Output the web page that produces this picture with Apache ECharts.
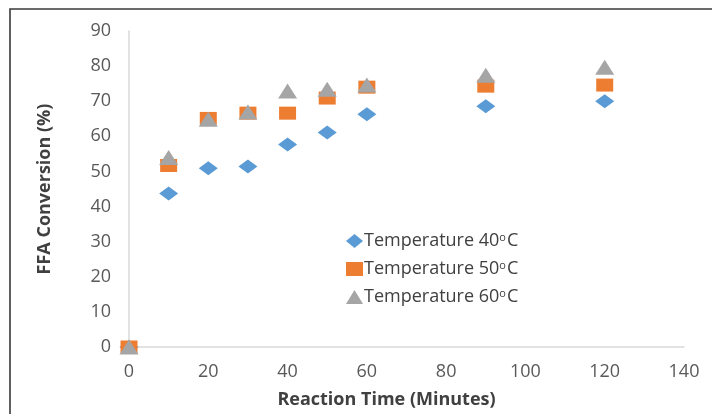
<!DOCTYPE html>
<html>
<head>
<meta charset="utf-8">
<script src="https://cdn.jsdelivr.net/npm/echarts@6/dist/echarts.min.js"></script>
<style>html,body{margin:0;padding:0;background:#fff;}#c{width:712px;height:414px;}</style>
</head>
<body>
<div id="c"></div>
<script>
const time = [0, 10, 20, 30, 40, 50, 60, 90, 120];
const temp40 = [0, 43.7, 50.9, 51.4, 57.7, 61.1, 66.3, 68.6, 70.0];
const temp50 = [0, 51.7, 65.1, 66.6, 66.6, 70.9, 74.0, 74.3, 74.6];
const temp60 = [0, 54.0, 64.9, 66.9, 72.9, 73.4, 74.6, 77.4, 79.7];
const seriesNames = ['Temperature 40oC', 'Temperature 50oC', 'Temperature 60oC'];
const xTicks = [0, 20, 40, 60, 80, 100, 120, 140];
const yTicks = [0, 10, 20, 30, 40, 50, 60, 70, 80, 90];

const FONT = '"Open Sans", Lato, sans-serif';
const pairs = arr => time.map((t, i) => [t, arr[i]]);

const chart = echarts.init(document.getElementById('c'), null, {renderer: 'canvas'});
chart.setOption({
  animation: false,
  backgroundColor: '#fff',
  textStyle: {fontFamily: FONT},
  graphic: [{
    type: 'polyline',
    shape: {points: [[10, 420], [10, 9], [720, 9]]},
    style: {stroke: '#3a3a3a', lineWidth: 1.6, fill: null}
  }],
  grid: {left: 129, right: 28, top: 31, bottom: 67},
  legend: {
    orient: 'vertical',
    left: 341,
    top: 227,
    itemWidth: 17,
    itemHeight: 14,
    itemGap: 10,
    itemStyle: {borderWidth: 0},
    formatter: name => {
      const m = name.match(/^(.*\d+)o(C)$/);
      return m ? '{a|' + m[1] + '}{s|o}{a|' + m[2] + '}' : name;
    },
    textStyle: {
      color: '#404040',
      fontSize: 18,
      padding: [0, 0, 0, -4],
      rich: {
        a: {fontSize: 18, color: '#404040', fontFamily: FONT},
        s: {fontSize: 11, color: '#404040', fontFamily: FONT, verticalAlign: 'top', padding: [0, 1, 7, 0]}
      }
    }
  },
  xAxis: {
    type: 'value',
    min: 0, max: 140, interval: 20,
    name: 'Reaction Time (Minutes)',
    nameLocation: 'middle',
    nameGap: 44,
    nameTextStyle: {fontSize: 18, fontWeight: 'bold', color: '#404040', padding: [0, 40, 0, 0]},
    axisLine: {show: true, lineStyle: {color: '#d9d9d9', width: 1.5}},
    axisTick: {show: false},
    splitLine: {show: false},
    axisLabel: {fontSize: 18, color: '#595959', margin: 16,
      customValues: xTicks}
  },
  yAxis: {
    type: 'value',
    min: 0, max: 90, interval: 10,
    name: 'FFA Conversion (%)',
    nameLocation: 'middle',
    nameGap: 75,
    nameTextStyle: {fontSize: 18, fontWeight: 'bold', color: '#404040'},
    axisLine: {show: true, lineStyle: {color: '#d9d9d9', width: 1.5}},
    axisTick: {show: false},
    splitLine: {show: false},
    axisLabel: {fontSize: 18, color: '#595959', margin: 18}
  },
  series: [
    {name: seriesNames[0], type: 'scatter', symbol: 'diamond', symbolSize: [19, 14],
     itemStyle: {color: '#5B9BD5', opacity: 1}, data: pairs(temp40)},
    {name: seriesNames[1], type: 'scatter', symbol: 'rect', symbolSize: [17, 13],
     itemStyle: {color: '#ED7D31', opacity: 1}, data: pairs(temp50)},
    {name: seriesNames[2], type: 'scatter', symbol: 'triangle', symbolSize: [19, 15],
     itemStyle: {color: '#A5A5A5', opacity: 1}, data: pairs(temp60)}
  ]
});
</script>
</body>
</html>
